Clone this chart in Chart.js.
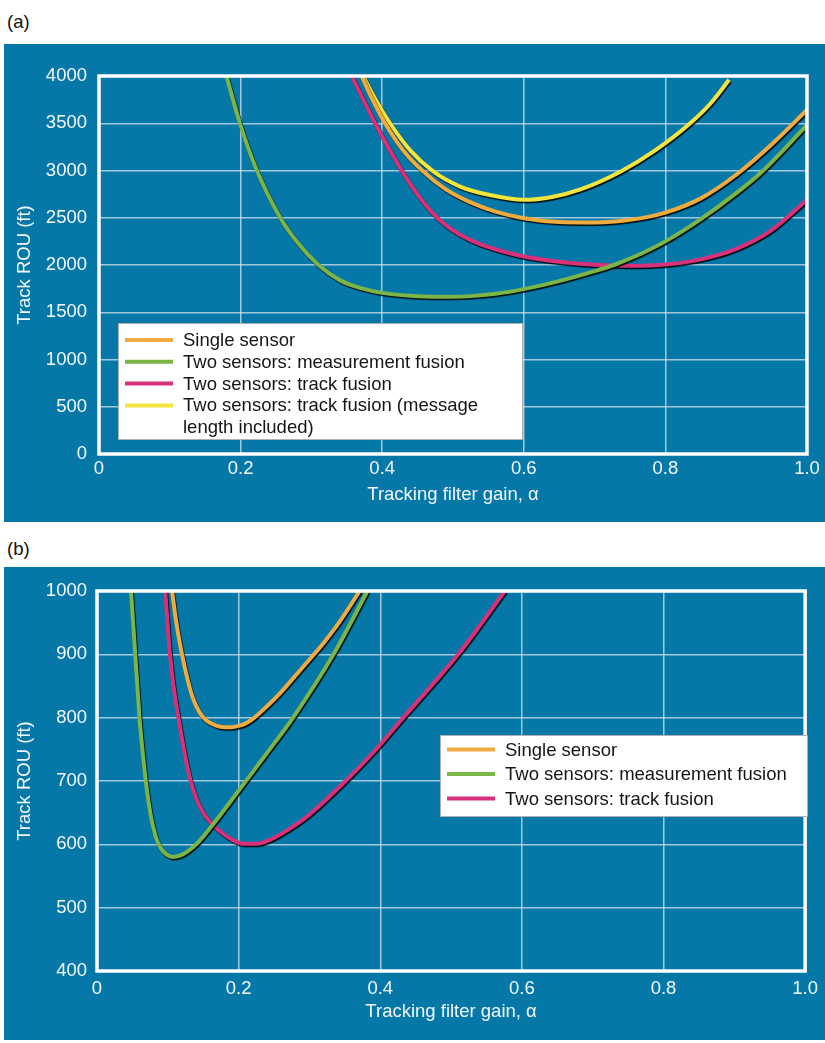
<!DOCTYPE html>
<html>
<head>
<meta charset="utf-8">
<script src="https://cdn.jsdelivr.net/npm/chart.js@4.4.1/dist/chart.umd.min.js"></script>
<style>
  html, body { margin: 0; padding: 0; background: #fff; width: 825px; height: 1043px; overflow: hidden; }
  .tag { position: absolute; left: 7px; font: 18.5px "Liberation Sans", Arial, sans-serif; line-height: 22px; color: #111; }
  .panel { position: absolute; left: 4px; width: 821px; background: #0578a8; }
  canvas { display: block; }
</style>
</head>
<body>
<div class="tag" style="top:11px">(a)</div>
<div class="panel" style="top:44px;height:478px"><canvas id="chartA" width="821" height="478"></canvas></div>
<div class="tag" style="top:538px">(b)</div>
<div class="panel" style="top:567px;height:473px"><canvas id="chartB" width="821" height="473"></canvas></div>

<script>
// ---- Tick labels ----
const gainTicks = ['0', '0.2', '0.4', '0.6', '0.8', '1.0'];
const rouTicksA = ['0', '500', '1000', '1500', '2000', '2500', '3000', '3500', '4000'];
const rouTicksB = ['400', '500', '600', '700', '800', '900', '1000'];

// ---- Series names ----
const nameSingle = 'Single sensor';
const nameMeas = 'Two sensors: measurement fusion';
const nameTrack = 'Two sensors: track fusion';
const nameTrackMsg = 'Two sensors: track fusion (message length included)';
const legendLinesTrackMsg = ['Two sensors: track fusion (message', 'length included)'];

// ---- Panel (a): track ROU (ft) vs tracking filter gain ----
const singleGainA = [0.371, 0.385, 0.404, 0.43, 0.458, 0.49, 0.524, 0.56, 0.60, 0.65, 0.70, 0.75, 0.80, 0.85, 0.90, 0.95, 1.0];
const singleRouA  = [4000, 3770, 3500, 3210, 2990, 2800, 2665, 2565, 2495, 2455, 2450, 2478, 2555, 2705, 2955, 3275, 3640];

const measGainA = [0.18, 0.199, 0.223, 0.256, 0.28, 0.31, 0.34, 0.37, 0.40, 0.44, 0.48, 0.52, 0.56, 0.60, 0.65, 0.70, 0.727, 0.76, 0.80, 0.849, 0.90, 0.936, 1.0];
const measRouA  = [4000, 3500, 3000, 2500, 2240, 2000, 1840, 1755, 1705, 1675, 1663, 1668, 1695, 1745, 1830, 1935, 2000, 2100, 2250, 2480, 2760, 2985, 3480];

const trackGainA = [0.357, 0.39, 0.4275, 0.45, 0.47, 0.49, 0.51, 0.54, 0.57, 0.60, 0.65, 0.70, 0.75, 0.80, 0.85, 0.90, 0.95, 1.0];
const trackRouA  = [4000, 3500, 3000, 2745, 2560, 2420, 2320, 2215, 2145, 2090, 2035, 2003, 1992, 2005, 2060, 2170, 2370, 2690];

const trackMsgGainA = [0.373, 0.39, 0.411, 0.44, 0.472, 0.51, 0.552, 0.60, 0.64, 0.68, 0.737, 0.785, 0.835, 0.865, 0.89];
const trackMsgRouA  = [4000, 3760, 3500, 3210, 2990, 2830, 2740, 2690, 2720, 2800, 2990, 3210, 3500, 3720, 3960];

// ---- Panel (b) ----
const singleGainB = [0.106, 0.112, 0.12, 0.128, 0.136, 0.145, 0.155, 0.167, 0.18, 0.19, 0.20, 0.21, 0.22, 0.24, 0.258, 0.28, 0.301, 0.32, 0.343, 0.371];
const singleRouB  = [1000, 950, 900, 860, 829, 808, 795, 788, 785, 785, 787, 791, 798, 818, 838, 866, 893, 918, 952, 1000];

const measGainB = [0.048, 0.054, 0.060, 0.065, 0.07, 0.076, 0.083, 0.09, 0.098, 0.107, 0.117, 0.128, 0.14, 0.16, 0.207, 0.254, 0.275, 0.334, 0.382];
const measRouB  = [1000, 900, 800, 740, 690, 645, 612, 594, 584, 580, 582, 589, 600, 626, 695, 765, 797, 900, 1000];

const trackGainB = [0.0963, 0.103, 0.108, 0.115, 0.124, 0.1315, 0.14, 0.15, 0.16, 0.169, 0.19, 0.207, 0.225, 0.244, 0.282, 0.301, 0.3455, 0.39, 0.4325, 0.51, 0.576];
const trackRouB  = [1000, 900, 850, 800, 742, 703, 673, 650, 635, 625, 608, 601, 601, 607, 632, 648, 694, 745, 800, 900, 1000];

// ---- Styling ----
const FONT = '"Liberation Sans", Arial, Helvetica, sans-serif';
const colSingle = '#efab3f';
const colMeas = '#7cb547';
const colTrack = '#d9307a';
const colTrackMsg = '#f3e53d';
const gridCol = 'rgba(222,232,242,0.72)';
const textCol = '#f4f7fa';

function pairs(xs, ys) { return xs.map((x, i) => ({ x: x, y: ys[i] })); }

function series(label, xs, ys, color) {
  return {
    label: label,
    data: pairs(xs, ys),
    borderColor: color,
    backgroundColor: color,
    borderWidth: 4,
    pointRadius: 0,
    cubicInterpolationMode: 'monotone',
    fill: false
  };
}

// dark drop edge under each curve
const curveShadow = {
  id: 'curveShadow',
  beforeDatasetDraw(chart) {
    const c = chart.ctx;
    c.save();
    c.shadowColor = 'rgba(0,0,0,0.9)';
    c.shadowOffsetX = 1;
    c.shadowOffsetY = 1.5;
    c.shadowBlur = 1;
  },
  afterDatasetDraw(chart) { chart.ctx.restore(); }
};

// white box round the plotting area
const plotFrame = {
  id: 'plotFrame',
  afterDatasetsDraw(chart) {
    const { ctx, chartArea: a } = chart;
    ctx.save();
    ctx.strokeStyle = '#ffffff';
    ctx.lineWidth = 3.5;
    ctx.strokeRect(a.left, a.top, a.right - a.left, a.bottom - a.top);
    ctx.restore();
  }
};

// boxed key inside the plotting area
const boxLegend = {
  id: 'boxLegend',
  afterDraw(chart, args, o) {
    const { ctx, chartArea: a } = chart;
    const x = a.left + o.dx, y = a.top + o.dy;
    ctx.save();
    ctx.fillStyle = '#ffffff';
    ctx.fillRect(x, y, o.w, o.h);
    ctx.strokeStyle = 'rgba(80,80,80,0.45)';
    ctx.lineWidth = 1;
    ctx.strokeRect(x + 0.5, y + 0.5, o.w - 1, o.h - 1);
    ctx.font = '18.5px ' + FONT;
    ctx.textBaseline = 'middle';
    ctx.textAlign = 'left';
    let row = 0;
    o.entries.forEach(e => {
      const cy = y + o.padTop + row * o.rowH;
      ctx.strokeStyle = chart.data.datasets[e.ds].borderColor;
      ctx.lineWidth = 4;
      ctx.beginPath();
      ctx.moveTo(x + 7, cy);
      ctx.lineTo(x + 55, cy);
      ctx.stroke();
      ctx.fillStyle = '#151515';
      e.lines.forEach((t, k) => ctx.fillText(t, x + 65, cy + 1 + k * o.rowH));
      row += e.lines.length;
    });
    ctx.restore();
  }
};

function makeOptions(p) {
  return {
    responsive: false,
    animation: false,
    events: [],
    layout: { padding: { top: p.padTop, right: p.padRight, left: 0, bottom: 0 } },
    scales: {
      x: {
        type: 'linear', min: 0, max: 1,
        afterFit(s) { s.height = p.xHeight; },
        border: { display: false },
        grid: { color: gridCol, lineWidth: 1.5, drawTicks: false },
        ticks: {
          stepSize: 0.2, padding: p.xTickPad, color: textCol,
          font: { family: FONT, size: 18.5 },
          maxRotation: 0,
          callback: (v, i) => gainTicks[i]
        },
        title: {
          display: true, text: 'Tracking filter gain, α', color: textCol,
          font: { family: FONT, size: 18.5 }, padding: p.xTitlePad
        }
      },
      y: {
        min: p.yMin, max: p.yMax,
        afterFit(s) { s.width = p.yWidth; },
        border: { display: false },
        grid: { color: gridCol, lineWidth: 1.5, drawTicks: false },
        ticks: {
          stepSize: p.yStep, padding: p.yTickPad, color: textCol,
          font: { family: FONT, size: 18.5 },
          callback: (v, i) => p.yLabels[i]
        },
        title: {
          display: true, text: 'Track ROU (ft)', color: textCol,
          font: { family: FONT, size: 18.5 }, padding: 10
        }
      }
    },
    plugins: {
      legend: { display: false },
      tooltip: { enabled: false },
      boxLegend: p.legend
    }
  };
}

new Chart(document.getElementById('chartA'), {
  type: 'line',
  data: {
    datasets: [
      series(nameSingle, singleGainA, singleRouA, colSingle),
      series(nameMeas, measGainA, measRouA, colMeas),
      series(nameTrack, trackGainA, trackRouA, colTrack),
      series(nameTrackMsg, trackMsgGainA, trackMsgRouA, colTrackMsg)
    ]
  },
  options: makeOptions({
    padTop: 32, padRight: 18, xHeight: 68, yWidth: 95,
    xTickPad: 4, xTitlePad: 16, yTickPad: 12,
    yMin: 0, yMax: 4000, yStep: 500, yLabels: rouTicksA,
    legend: {
      dx: 19, dy: 247, w: 405, h: 117, padTop: 17, rowH: 21.8,
      entries: [
        { ds: 0, lines: [nameSingle] },
        { ds: 1, lines: [nameMeas] },
        { ds: 2, lines: [nameTrack] },
        { ds: 3, lines: legendLinesTrackMsg }
      ]
    }
  }),
  plugins: [curveShadow, plotFrame, boxLegend]
});

new Chart(document.getElementById('chartB'), {
  type: 'line',
  data: {
    datasets: [
      series(nameSingle, singleGainB, singleRouB, colSingle),
      series(nameMeas, measGainB, measRouB, colMeas),
      series(nameTrack, trackGainB, trackRouB, colTrack)
    ]
  },
  options: makeOptions({
    padTop: 24, padRight: 19, xHeight: 69, yWidth: 93,
    xTickPad: 7, xTitlePad: 17, yTickPad: 10,
    yMin: 400, yMax: 1000, yStep: 100, yLabels: rouTicksB,
    legend: {
      dx: 343, dy: 144, w: 368, h: 82, padTop: 14.5, rowH: 24.5,
      entries: [
        { ds: 0, lines: [nameSingle] },
        { ds: 1, lines: [nameMeas] },
        { ds: 2, lines: [nameTrack] }
      ]
    }
  }),
  plugins: [curveShadow, plotFrame, boxLegend]
});
</script>
</body>
</html>
